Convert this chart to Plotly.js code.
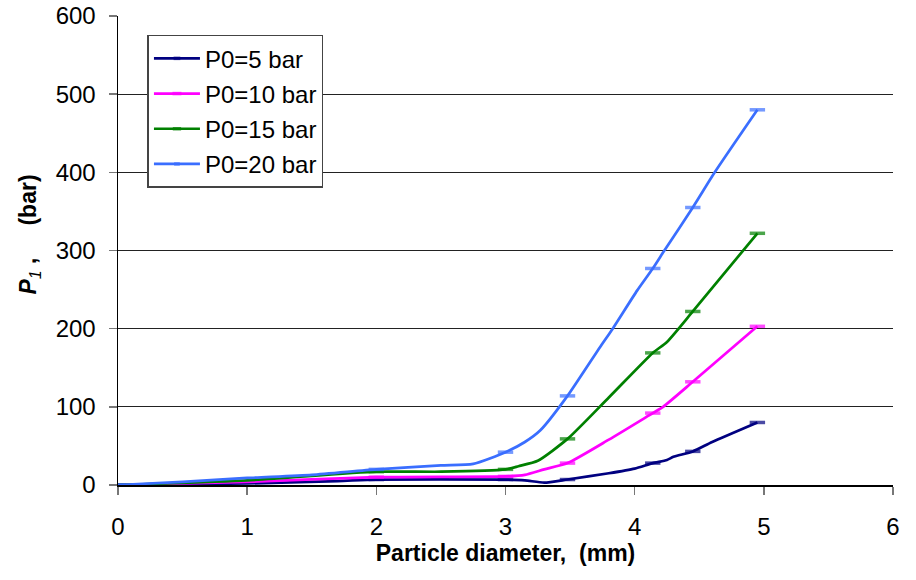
<!DOCTYPE html>
<html>
<head>
<meta charset="utf-8">
<script src="https://cdn.plot.ly/plotly-3.0.1.min.js"></script>
<style>body{margin:0;background:#fff}#chart{width:916px;height:580px}</style>
</head>
<body>
<div id="chart"></div>
<script>
// Series data (x = particle diameter mm, y = P1 bar)
const seriesNames = ["P0=5 bar", "P0=10 bar", "P0=15 bar", "P0=20 bar"];
const seriesColors = ["#000080", "#FF00FF", "#008000", "#3A6EFF"];

const x5  = [0, 1, 1.7, 2, 3, 3.15, 3.3, 3.48, 3.8, 4.0, 4.14, 4.25, 4.3, 4.45, 4.6, 4.95];
const y5  = [0, 2, 5, 7, 7, 6, 3, 7, 15, 21, 28, 32, 36, 43, 55, 80];

const x10 = [0, 1, 2, 3, 3.15, 3.3, 3.48, 3.8, 4.14, 4.22, 4.45, 4.95];
const y10 = [0, 4, 10, 11, 13, 20, 28, 58, 92, 100, 132, 203];

const x15 = [0, 1, 2, 2.5, 3, 3.1, 3.25, 3.48, 3.8, 4.14, 4.25, 4.45, 4.95];
const y15 = [0, 6, 17, 17, 20, 24, 31, 59, 112, 169, 183, 222, 322];

const x20 = [0, 0.5, 1, 1.5, 2, 2.5, 2.75, 3, 3.15, 3.27, 3.48, 3.73, 3.83, 4.02, 4.14, 4.23, 4.45, 4.62, 4.95];
const y20 = [0, 4, 9, 13, 20, 25, 27, 42, 55, 70, 114, 176, 200, 249, 277, 300, 355, 400, 480];

// x positions where the reference shows point markers
const markerX = [0, 2, 3, 3.48, 4.14, 4.45, 4.95];

const xTicks = [0, 1, 2, 3, 4, 5, 6];
const yTicks = [0, 100, 200, 300, 400, 500, 600];

const xs = [x5, x10, x15, x20];
const ys = [y5, y10, y15, y20];

const FONT = 'Liberation Sans, Arial, sans-serif';
const SP = '&nbsp;';

const traces = xs.map((x, i) => ({
  type: 'scatter',
  mode: 'lines+markers',
  name: seriesNames[i],
  legendgroup: 'g' + i,
  x: x,
  y: ys[i],
  line: {color: seriesColors[i], width: 2.7, shape: 'spline', smoothing: 0.6},
  marker: {
    symbol: 'line-ew',
    size: x.map(v => markerX.includes(v) ? 11 : 0),
    color: seriesColors[i],
    line: {color: seriesColors[i], width: 3.5}
  },
  hoverinfo: 'x+y'
}));

const layout = {
  width: 916, height: 580,
  margin: {l: 118, r: 23, t: 16, b: 95},
  paper_bgcolor: '#fff', plot_bgcolor: '#fff',
  font: {family: FONT, size: 24, color: '#000'},
  showlegend: true,
  legend: {
    x: 0.038, y: 0.96, xanchor: 'left', yanchor: 'top',
    bgcolor: '#fff', bordercolor: '#444', borderwidth: 1.5,
    font: {size: 24, family: FONT},
    traceorder: 'grouped', tracegroupgap: 1, itemwidth: 46
  },
  xaxis: {
    range: [0, 6], tickvals: xTicks, ticktext: xTicks.map(String),
    showgrid: false, zeroline: false,
    showline: true, linecolor: '#000', linewidth: 1.5,
    ticks: 'outside', ticklen: 8, tickcolor: '#777', tickwidth: 1.5,
    ticklabelstandoff: 12,
    tickfont: {size: 24},
    title: {text: '<b>Particle diameter,&nbsp; (mm)</b>', font: {size: 23}, standoff: 4}
  },
  yaxis: {
    range: [0, 600], tickvals: yTicks, ticktext: yTicks.map(String),
    showgrid: true, gridcolor: '#222', gridwidth: 1,
    zeroline: false,
    showline: true, linecolor: '#000', linewidth: 1.5,
    ticks: 'outside', ticklen: 8, tickcolor: '#777', tickwidth: 1.5,
    ticklabelstandoff: 8,
    tickfont: {size: 24},
    title: {
      text: SP.repeat(5) + '<b><i>P</i></b><sub><i>1</i></sub><b> ,' + SP.repeat(4) + ' (bar)</b>',
      font: {size: 23}, standoff: 12
    }
  }
};

Plotly.newPlot('chart', traces, layout, {displayModeBar: false, staticPlot: true});
</script>
</body>
</html>
